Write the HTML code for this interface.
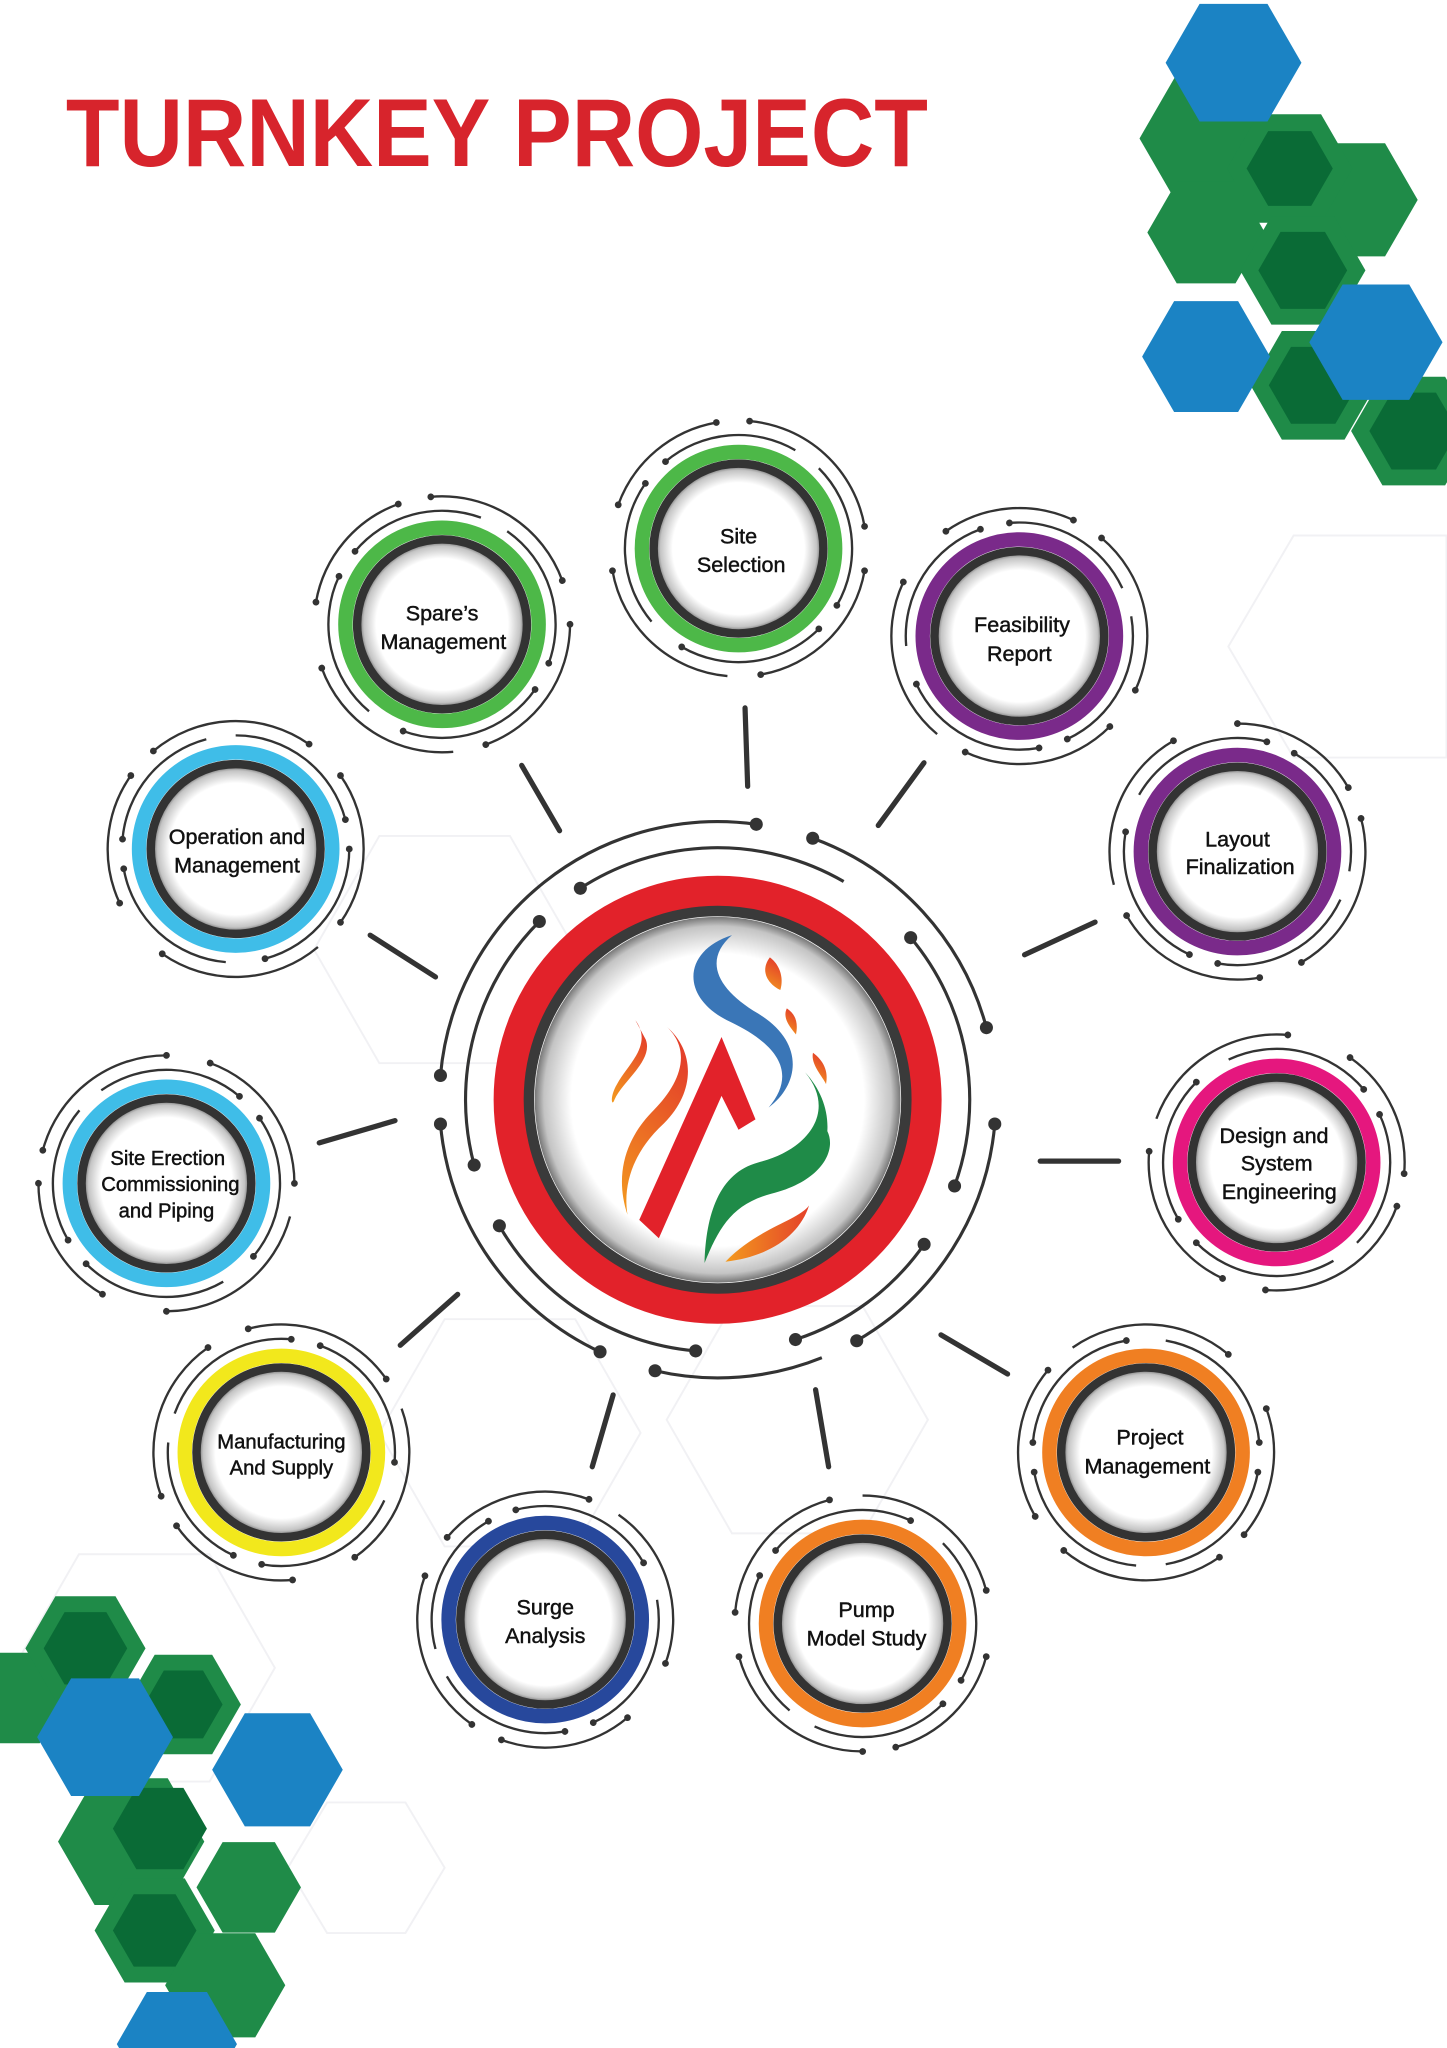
<!DOCTYPE html>
<html><head><meta charset="utf-8"><style>
html,body{margin:0;padding:0;background:#fff}
svg{display:block}
text{font-family:"Liberation Sans",sans-serif}
</style></head><body>
<svg width="1447" height="2048" viewBox="0 0 1107 1568" xmlns="http://www.w3.org/2000/svg">
<defs>
<polygon id="h" points="1,0 .5,.866 -.5,.866 -1,0 -.5,-.866 .5,-.866"/>
<radialGradient id="sh" cx="50%" cy="50%" r="50%">
<stop offset="0.8" stop-color="#fff"/><stop offset="0.95" stop-color="#c4c4c4"/><stop offset="1" stop-color="#777"/>
</radialGradient>
<linearGradient id="og" x1="0" y1="1" x2="0.3" y2="0"><stop offset="0" stop-color="#f39a1e"/><stop offset="1" stop-color="#e4412a"/></linearGradient>
<linearGradient id="og2" x1="0" y1="0" x2="1" y2="0"><stop offset="0" stop-color="#f39a1e"/><stop offset="1" stop-color="#e4412a"/></linearGradient>
<g id="arcs" fill="none" stroke="#333" stroke-width="1.8">
<path d="M-92.1,-33.5 A98,98 0 0 1 -17,-96.5"/>
<path d="M8.5,-97.6 A98,98 0 0 1 96.5,-17"/>
<path d="M96.5,17 A98,98 0 0 1 17,96.5"/>
<path d="M-8.5,97.6 A98,98 0 0 1 -96.5,17"/>
<path d="M-55.9,-66.6 A87,87 0 0 1 43.5,-75.3"/>
<path d="M61.5,-61.5 A87,87 0 0 1 75.3,43.5"/>
<path d="M61.5,61.5 A87,87 0 0 1 -43.5,75.3"/>
<path d="M-66.6,55.9 A87,87 0 0 1 -71.3,-49.9"/>
<g fill="#333" stroke="none">
<circle cx="-17" cy="-96.5" r="2.6"/><circle cx="8.5" cy="-97.6" r="2.6"/><circle cx="96.5" cy="-17" r="2.6"/><circle cx="96.5" cy="17" r="2.6"/>
<circle cx="17" cy="96.5" r="2.6"/><circle cx="-96.5" cy="17" r="2.6"/><circle cx="-55.9" cy="-66.6" r="2.6"/><circle cx="75.3" cy="43.5" r="2.6"/>
<circle cx="-43.5" cy="75.3" r="2.6"/><circle cx="-71.3" cy="-49.9" r="2.6"/><circle cx="61.5" cy="61.5" r="2.6"/><circle cx="-92.1" cy="-33.5" r="2.6"/>
</g>
</g>
<g id="inner">
<circle r="63" fill="url(#sh)"/>
<circle r="65" fill="none" stroke="#333" stroke-width="6.5"/>
</g>
</defs>

<!-- faint background hex lines -->
<g fill="none" stroke="#f1f1f4" stroke-width="1.5">
<polygon points="290,640 390,640 440,727 390,814 290,814 240,727"/>
<polygon points="340,1010 440,1010 490,1097 440,1184 340,1184 290,1097"/>
<polygon points="560,1000 660,1000 710,1087 660,1174 560,1174 510,1087"/>
<polygon points="990,410 1107,410 1107,580 990,580 940,495"/>
<polygon points="60,1190 160,1190 210,1277 160,1364 60,1364 10,1277"/>
<polygon points="250,1380 310,1380 340,1430 310,1480 250,1480 220,1430"/>
</g>

<!-- hexagons top right -->
<g>
<use href="#h" transform="translate(926 106) scale(54)" fill="#1f8b48"/>
<use href="#h" transform="translate(1035 153) scale(50)" fill="#1f8b48"/>
<use href="#h" transform="translate(987 129) scale(48)" fill="#1f8b48"/>
<use href="#h" transform="translate(987 129) scale(33)" fill="#0a6b36"/>
<use href="#h" transform="translate(923 178) scale(45)" fill="#1f8b48"/>
<use href="#h" transform="translate(997 207) scale(48)" fill="#1f8b48"/>
<use href="#h" transform="translate(997 207) scale(34)" fill="#0a6b36"/>
<use href="#h" transform="translate(1005 295) scale(48)" fill="#1f8b48"/>
<use href="#h" transform="translate(1005 295) scale(34)" fill="#0a6b36"/>
<use href="#h" transform="translate(1082 330) scale(48)" fill="#1f8b48"/>
<use href="#h" transform="translate(1082 330) scale(34)" fill="#0a6b36"/>
<use href="#h" transform="translate(944 48) scale(52)" fill="#1b83c4"/>
<use href="#h" transform="translate(923 273) scale(49)" fill="#1b83c4"/>
<use href="#h" transform="translate(1053 262) scale(51)" fill="#1b83c4"/>
</g>
<!-- hexagons bottom left -->
<g>
<use href="#h" transform="translate(10 1300) scale(40)" fill="#1f8b48"/>
<use href="#h" transform="translate(65 1262) scale(46)" fill="#1f8b48"/>
<use href="#h" transform="translate(65 1262) scale(32)" fill="#0a6b36"/>
<use href="#h" transform="translate(140 1305) scale(44)" fill="#1f8b48"/>
<use href="#h" transform="translate(140 1305) scale(30)" fill="#0a6b36"/>
<use href="#h" transform="translate(100 1410) scale(56)" fill="#1f8b48"/>
<use href="#h" transform="translate(122 1400) scale(36)" fill="#0a6b36"/>
<use href="#h" transform="translate(190 1445) scale(40)" fill="#1f8b48"/>
<use href="#h" transform="translate(118 1478) scale(46)" fill="#1f8b48"/>
<use href="#h" transform="translate(118 1478) scale(32)" fill="#0a6b36"/>
<use href="#h" transform="translate(172 1520) scale(46)" fill="#1f8b48"/>
<use href="#h" transform="translate(80 1330) scale(52)" fill="#1b83c4"/>
<use href="#h" transform="translate(212 1355) scale(50)" fill="#1b83c4"/>
<use href="#h" transform="translate(135 1565) scale(46)" fill="#1b83c4"/>
</g>

<!-- title -->
<text x="50" y="127" font-size="74" font-weight="bold" fill="#d7242c" textLength="660" lengthAdjust="spacingAndGlyphs">TURNKEY PROJECT</text>

<!-- connectors -->
<g stroke="#333" stroke-width="4" stroke-linecap="round">
<line x1="570" y1="542" x2="572" y2="602"/>
<line x1="707" y1="584" x2="672" y2="632"/>
<line x1="838" y1="706" x2="784" y2="731"/>
<line x1="796" y1="889" x2="856" y2="889"/>
<line x1="720" y1="1022" x2="771" y2="1052"/>
<line x1="624" y1="1064" x2="634" y2="1123"/>
<line x1="469" y1="1068" x2="453" y2="1123"/>
<line x1="350" y1="991" x2="306" y2="1030"/>
<line x1="244" y1="875" x2="302" y2="858"/>
<line x1="283" y1="716" x2="333" y2="748"/>
<line x1="399" y1="586" x2="428" y2="636"/>
</g>

<!-- center -->
<g fill="none" stroke="#333" stroke-width="2.4">
<path d="M336.8,823.4 A213,213 0 0 1 578.6,631.1"/>
<path d="M621.8,641.8 A213,213 0 0 1 754.8,786.8"/>
<path d="M761.2,860.6 A213,213 0 0 1 655.5,1026.5"/>
<path d="M628.8,1039.5 A213,213 0 0 1 501.1,1049.5"/>
<path d="M459,1035 A213,213 0 0 1 336.8,860.6"/>
<path d="M443.9,680.1 A193,193 0 0 1 645.5,674.9"/>
<path d="M696.8,717.9 A193,193 0 0 1 730.4,908"/>
<path d="M707.1,952.7 A193,193 0 0 1 608.6,1025.6"/>
<path d="M532.2,1034.3 A193,193 0 0 1 381.9,938.5"/>
<path d="M362.6,892 A193,193 0 0 1 412.5,705.5"/>
</g>
<g fill="#333">
<circle cx="578.6" cy="631.1" r="5"/><circle cx="621.8" cy="641.8" r="5"/><circle cx="754.8" cy="786.8" r="5"/><circle cx="761.2" cy="860.6" r="5"/>
<circle cx="501.1" cy="1049.5" r="5"/><circle cx="459" cy="1035" r="5"/><circle cx="336.8" cy="823.4" r="5"/><circle cx="336.8" cy="860.6" r="5"/>
<circle cx="443.9" cy="680.1" r="5"/><circle cx="696.8" cy="717.9" r="5"/><circle cx="730.4" cy="908" r="5"/><circle cx="707.1" cy="952.7" r="5"/>
<circle cx="608.6" cy="1025.6" r="5"/><circle cx="381.9" cy="938.5" r="5"/><circle cx="362.6" cy="892" r="5"/><circle cx="412.5" cy="705.5" r="5"/>
<circle cx="655.5" cy="1026.5" r="5"/><circle cx="532.2" cy="1034.3" r="5"/>
</g>
<circle cx="549" cy="842" r="140" fill="url(#sh)"/>
<circle cx="549" cy="842" r="146" fill="none" stroke="#3a3a3a" stroke-width="11"/>
<circle cx="549" cy="842" r="160" fill="none" stroke="#e2222a" stroke-width="23"/>

<!-- logo -->
<path d="M560,716 C522,728 520,764 558,782 C596,800 610,822 588,848 C612,830 616,798 580,776 C548,757 538,735 560,716 Z" fill="#3a76b7"/>
<polygon points="552,794 578,857 565,865 552,839 504,948 489,934" fill="#e2222a"/>
<path d="M486,781 C500,800 480,815 472,830 C466,840 468,848 470,842 C476,828 500,812 494,796 Z" fill="url(#og)"/>
<path d="M510,786 C530,805 520,830 500,850 C478,872 470,900 480,930 C476,905 486,880 508,860 C532,836 532,805 510,786 Z" fill="url(#og)"/>
<path d="M616,821 C640,850 620,880 580,890 C550,898 540,930 539,967 C550,940 560,922 590,914 C630,904 640,880 633,866 C634,850 628,834 616,821 Z" fill="#1f8b48"/>
<path d="M555,966 C580,940 610,935 619,923 C612,945 590,962 555,966 Z" fill="url(#og2)"/>
<path d="M589,733 C580,745 590,755 597,758 C600,748 596,738 589,733 Z" fill="url(#og)"/>
<path d="M602,772 C598,780 606,788 609,792 C611,782 608,776 602,772 Z" fill="url(#og)"/>
<path d="M622,806 C620,815 630,825 632,830 C634,820 630,812 622,806 Z" fill="url(#og)"/>

<!-- nodes -->
<g font-size="16.5" fill="#111" stroke="#111" stroke-width="0.35" text-anchor="middle">
<g transform="translate(565 420)"><use href="#arcs" transform="rotate(0)"/><use href="#inner"/><circle r="74" fill="none" stroke="#4db848" stroke-width="11"/>
<text x="0" y="-4">Site</text><text x="2" y="18">Selection</text></g>
<g transform="translate(780 487)"><use href="#arcs" transform="rotate(35)"/><use href="#inner"/><circle r="74" fill="none" stroke="#7a2a8a" stroke-width="11"/>
<text x="2" y="-3">Feasibility</text><text x="0" y="19">Report</text></g>
<g transform="translate(947 652)"><use href="#arcs" transform="rotate(70)"/><use href="#inner"/><circle r="74" fill="none" stroke="#7a2a8a" stroke-width="11"/>
<text x="0" y="-4">Layout</text><text x="2" y="17">Finalization</text></g>
<g transform="translate(977 890)"><use href="#arcs" transform="rotate(105)"/><use href="#inner"/><circle r="74" fill="none" stroke="#e5177e" stroke-width="11"/>
<text x="-2" y="-15">Design and</text><text x="0" y="6">System</text><text x="2" y="28">Engineering</text></g>
<g transform="translate(877 1112)"><use href="#arcs" transform="rotate(140)"/><use href="#inner"/><circle r="74" fill="none" stroke="#f07f22" stroke-width="11"/>
<text x="3" y="-6">Project</text><text x="1" y="16">Management</text></g>
<g transform="translate(660 1243)"><use href="#arcs" transform="rotate(175)"/><use href="#inner"/><circle r="74" fill="none" stroke="#f07f22" stroke-width="11"/>
<text x="3" y="-5">Pump</text><text x="3" y="17">Model Study</text></g>
<g transform="translate(417 1240)"><use href="#arcs" transform="rotate(210)"/><use href="#inner"/><circle r="74" fill="none" stroke="#27489c" stroke-width="11"/>
<text x="0" y="-4">Surge</text><text x="0" y="18">Analysis</text></g>
<g transform="translate(215 1112)"><use href="#arcs" transform="rotate(245)"/><use href="#inner"/><circle r="74" fill="none" stroke="#f2e81c" stroke-width="11"/>
<text x="0" y="-3" font-size="15.5">Manufacturing</text><text x="0" y="17" font-size="15.5">And Supply</text></g>
<g transform="translate(127 906)"><use href="#arcs" transform="rotate(280)"/><use href="#inner"/><circle r="74" fill="none" stroke="#3fbde8" stroke-width="11"/>
<text x="1" y="-14" font-size="15.5">Site Erection</text><text x="3" y="6" font-size="15.5">Commissioning</text><text x="0" y="26" font-size="15.5">and Piping</text></g>
<g transform="translate(180 650)"><use href="#arcs" transform="rotate(315)"/><use href="#inner"/><circle r="74" fill="none" stroke="#3fbde8" stroke-width="11"/>
<text x="1" y="-4">Operation and</text><text x="1" y="18">Management</text></g>
<g transform="translate(338 478)"><use href="#arcs" transform="rotate(350)"/><use href="#inner"/><circle r="74" fill="none" stroke="#4db848" stroke-width="11"/>
<text x="0" y="-3">Spare’s</text><text x="1" y="19">Management</text></g>
</g>
</svg>
</body></html>
